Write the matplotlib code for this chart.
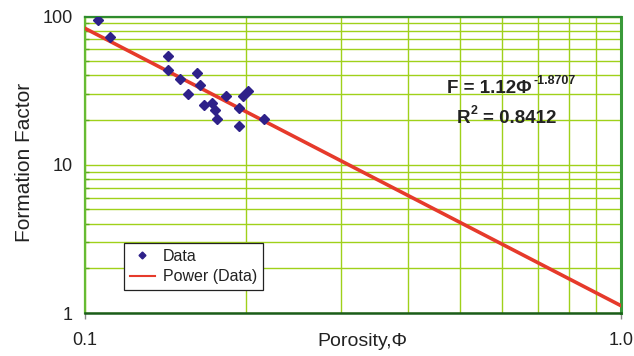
import numpy as np
import matplotlib
matplotlib.use("Agg")
import matplotlib.pyplot as plt
from matplotlib.ticker import FixedLocator, NullFormatter, LogLocator

plt.rcParams['font.family'] = ['Liberation Sans', 'DejaVu Sans']

# Data
porosity = [0.1059, 0.1112, 0.1427, 0.1428, 0.1504, 0.1616, 0.1639, 0.1558, 0.1667,
            0.1728, 0.1750, 0.1765, 0.1830, 0.1941, 0.1941, 0.1974, 0.2012, 0.2158]
formation_factor = [94.3, 73.1, 53.9, 43.8, 37.9, 41.8, 34.3, 30.0, 25.2,
                    26.1, 23.3, 20.4, 29.2, 24.0, 18.3, 29.1, 31.6, 20.4]
fit_a = 1.12
fit_b = -1.8707
fit_r2 = 0.8412
x_ticks = [0.1, 1.0]
x_tick_labels = ["0.1", "1.0"]
y_ticks = [1, 10, 100]
y_tick_labels = ["1", "10", "100"]

fig = plt.figure(figsize=(6.34, 3.56), dpi=100)
ax = fig.add_axes([85/634, 1-313/356, 536/634, 296.5/356])

ax.set_xscale('log')
ax.set_yscale('log')
ax.set_xlim(0.1, 1.0)
ax.set_ylim(1, 100)

# grid
ax.xaxis.set_minor_locator(LogLocator(base=10, subs=np.arange(2, 10)))
ax.yaxis.set_minor_locator(LogLocator(base=10, subs=np.arange(2, 10)))
ax.grid(True, which='both', color='#9fd11a', linewidth=1.0)
ax.set_axisbelow(True)

ax.xaxis.set_major_locator(FixedLocator(x_ticks))
ax.set_xticklabels(x_tick_labels)
ax.yaxis.set_major_locator(FixedLocator(y_ticks))
ax.set_yticklabels(y_tick_labels)
ax.xaxis.set_minor_formatter(NullFormatter())
ax.yaxis.set_minor_formatter(NullFormatter())
ax.tick_params(axis='x', which='major', length=4, width=1, color='#888888',
               labelsize=13, pad=9.5, labelcolor='#222222')
ax.tick_params(axis='x', which='minor', length=0)
ax.tick_params(axis='y', which='major', length=0, labelsize=13, pad=8.6, labelcolor='#222222')
ax.tick_params(axis='y', which='minor', direction='in', length=3, width=1, color='#5aa820')

for side, col, lw in [('top', '#2e8b2e', 1.6), ('right', '#3a9a3a', 2.2),
                      ('left', '#66bb33', 1.6), ('bottom', '#1a5c1a', 1.8)]:
    ax.spines[side].set_color(col)
    ax.spines[side].set_linewidth(lw)

# data
ax.plot(porosity, formation_factor, linestyle='none', marker='D', markersize=5,
        color='#2e2189', label='Data', zorder=4)

# power fit
xf = np.logspace(np.log10(0.1), np.log10(1.0), 100)
ax.plot(xf, fit_a * xf ** fit_b, color='#e63a2b', linewidth=2.6, label='Power (Data)', zorder=3)

leg = ax.legend(loc='lower left', bbox_to_anchor=(0.0728, 0.0776), borderaxespad=0,
                fontsize=11.5, frameon=True, fancybox=False, framealpha=1,
                edgecolor='#222222', handlelength=1.6, handletextpad=0.5,
                borderpad=0.35, labelspacing=0.35, markerscale=0.7)
leg.get_frame().set_linewidth(0.9)
for h in leg.get_lines():
    if h.get_linestyle() == '-':
        h.set_linewidth(1.5)
for t in leg.get_texts():
    t.set_color('#222222')

# equation
eq_kw = dict(transform=ax.transAxes, va='baseline', fontweight='bold', color='#222222')
ax.text(0.834, 0.742, f"F = {fit_a:.2f}Φ", ha='right', fontsize=13.5, **eq_kw)
ax.text(0.836, 0.774, f"{fit_b:.4f}", ha='left', fontsize=9, **eq_kw)
ax.text(0.694, 0.641, "R", ha='left', fontsize=13.5, **eq_kw)
ax.text(0.720, 0.671, "2", ha='left', fontsize=9, **eq_kw)
ax.text(0.743, 0.641, f"= {fit_r2:.4f}", ha='left', fontsize=13.5, **eq_kw)

# axis labels
fig.text(25/634, 1-162/356, "Formation Factor", rotation=90, ha='center', va='center',
         fontsize=15, color='#222222')
fig.text(362/634, 1-341/356, "Porosity,Φ", ha='center', va='center',
         fontsize=14, color='#222222')

fig.savefig("out.png", dpi=100)
